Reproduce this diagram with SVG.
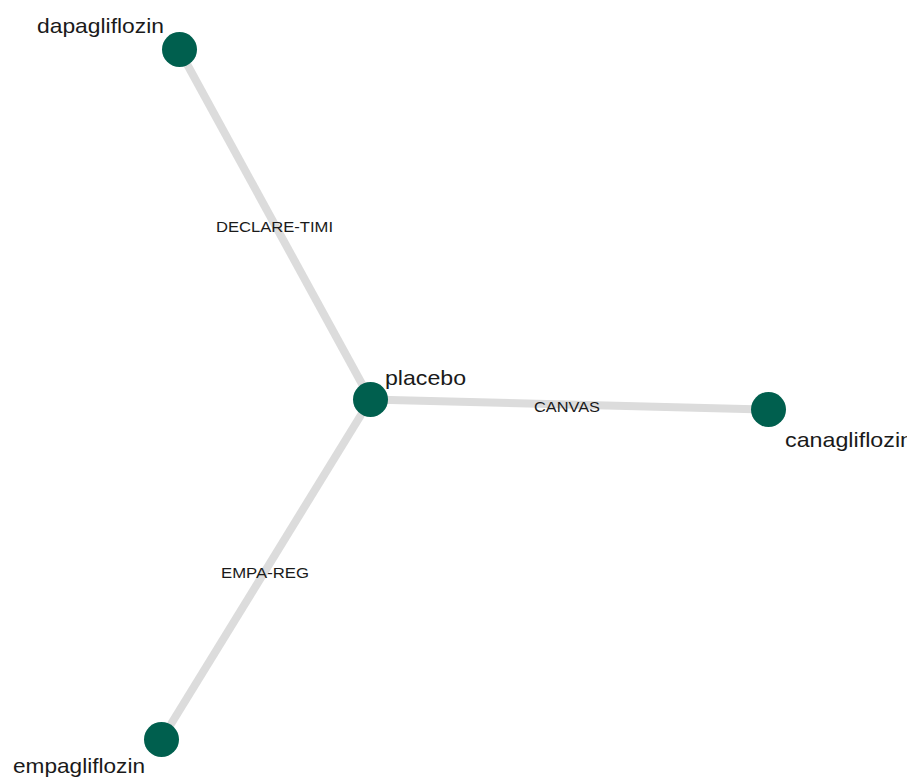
<svg xmlns="http://www.w3.org/2000/svg" width="907" height="783" viewBox="0 0 907 783">
<style>
.edge{stroke:#dcdcdc;stroke-width:8;fill:none}
.node{fill:#005f4e}
.nl{font-family:"Liberation Sans",Arial,sans-serif;font-size:21px;fill:#1a1a1a}
.el{font-family:"Liberation Sans",Arial,sans-serif;font-size:14.5px;fill:#1a1a1a}
</style>
<rect width="907" height="783" fill="#fff"/>
<g id="connectors">
<line class="edge" x1="179" y1="49.5" x2="370.5" y2="399.5"/>
<line class="edge" x1="370.5" y1="399.5" x2="768.5" y2="409.5"/>
<line class="edge" x1="370.5" y1="399.5" x2="161.5" y2="739.5"/>
<text class="el" x="216" y="232" textLength="117" lengthAdjust="spacingAndGlyphs">DECLARE-TIMI</text>
<text class="el" x="534" y="412" textLength="66" lengthAdjust="spacingAndGlyphs">CANVAS</text>
<text class="el" x="221" y="578" textLength="88" lengthAdjust="spacingAndGlyphs">EMPA-REG</text>
</g>
<g id="dapagliflozin"><circle class="node" cx="179.5" cy="49.5" r="17.5"/><text class="nl" x="37" y="33" textLength="127" lengthAdjust="spacingAndGlyphs">dapagliflozin</text></g>
<g id="placebo"><circle class="node" cx="370.5" cy="399.5" r="17.5"/><text class="nl" x="385" y="385" textLength="81" lengthAdjust="spacingAndGlyphs">placebo</text></g>
<g id="canagliflozin"><circle class="node" cx="768.5" cy="409.5" r="17.5"/><text class="nl" x="785" y="447" textLength="128" lengthAdjust="spacingAndGlyphs">canagliflozin</text></g>
<g id="empagliflozin"><circle class="node" cx="161.5" cy="739.5" r="17.5"/><text class="nl" x="13" y="773" textLength="132" lengthAdjust="spacingAndGlyphs">empagliflozin</text></g>
</svg>
